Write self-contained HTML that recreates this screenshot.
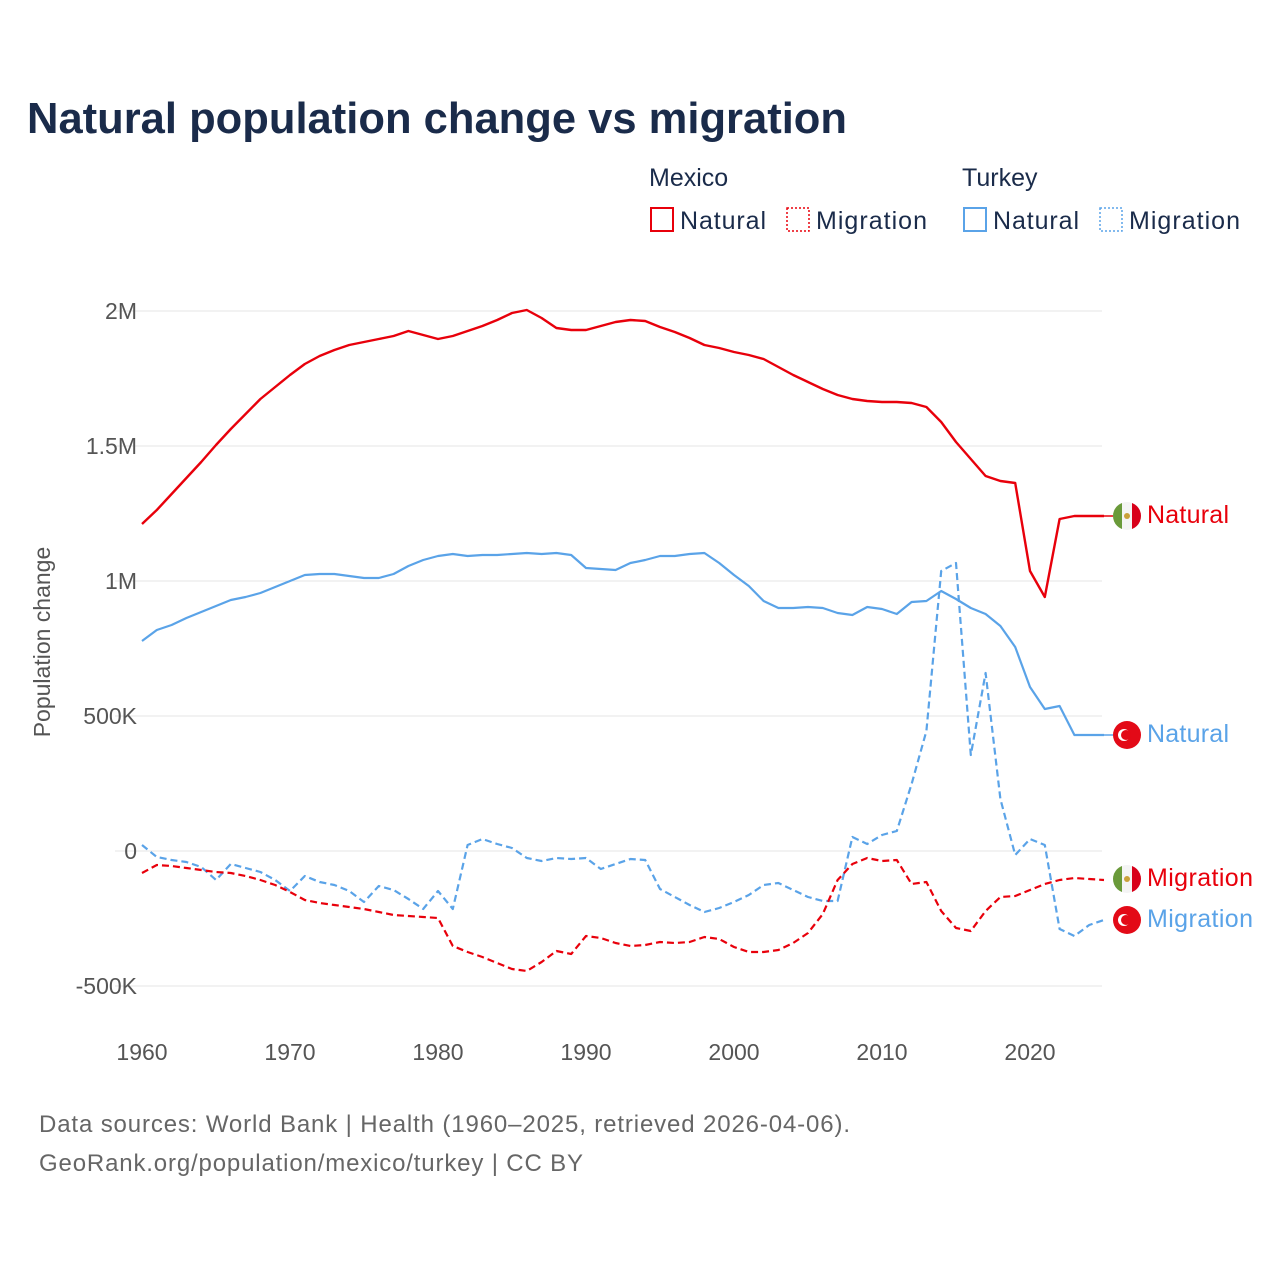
<!DOCTYPE html>
<html><head><meta charset="utf-8"><style>
body{margin:0;background:#fff;}
svg text{font-family:"Liberation Sans",sans-serif;}
</style></head><body>
<svg id="s" width="1280" height="1280" xmlns="http://www.w3.org/2000/svg">
<defs>
<clipPath id="c1"><circle cx="1127" cy="516" r="14"/></clipPath>
<clipPath id="c2"><circle cx="1127" cy="879" r="14"/></clipPath>
</defs>
<rect width="1280" height="1280" fill="#fff"/>
<text x="27" y="133" font-size="44" font-weight="bold" fill="#1a2b4a" textLength="820" lengthAdjust="spacingAndGlyphs">Natural population change vs migration</text>
<text x="649" y="186" font-size="25" fill="#1a2b4a">Mexico</text>
<text x="962" y="186" font-size="25" fill="#1a2b4a">Turkey</text>
<rect x="651" y="208" width="22" height="23" fill="none" stroke="#e8000b" stroke-width="2"/>
<text x="680" y="229" font-size="25" fill="#1a2b4a" textLength="86">Natural</text>
<rect x="787" y="208" width="22" height="23" fill="none" stroke="#e8000b" stroke-width="1.5" stroke-dasharray="2,2"/>
<text x="816" y="229" font-size="25" fill="#1a2b4a" textLength="111">Migration</text>
<rect x="964" y="208" width="22" height="23" fill="none" stroke="#5aa3e8" stroke-width="2"/>
<text x="993" y="229" font-size="25" fill="#1a2b4a" textLength="86">Natural</text>
<rect x="1100" y="208" width="22" height="23" fill="none" stroke="#5aa3e8" stroke-width="1.5" stroke-dasharray="2,2"/>
<text x="1129" y="229" font-size="25" fill="#1a2b4a" textLength="111">Migration</text>
<g stroke="#e6e6e6" stroke-width="1">
<line x1="115" x2="1102" y1="311" y2="311"/><line x1="115" x2="1102" y1="446" y2="446"/>
<line x1="115" x2="1102" y1="581" y2="581"/><line x1="115" x2="1102" y1="716" y2="716"/>
<line x1="115" x2="1102" y1="851" y2="851"/><line x1="115" x2="1102" y1="986" y2="986"/>
</g>
<g font-size="23" fill="#555" text-anchor="end">
<text x="137" y="319">2M</text><text x="137" y="454">1.5M</text><text x="137" y="589">1M</text>
<text x="137" y="724">500K</text><text x="137" y="859">0</text><text x="137" y="994">-500K</text>
</g>
<g font-size="23" fill="#555" text-anchor="middle">
<text x="142" y="1060">1960</text><text x="290" y="1060">1970</text><text x="438" y="1060">1980</text>
<text x="586" y="1060">1990</text><text x="734" y="1060">2000</text><text x="882" y="1060">2010</text><text x="1030" y="1060">2020</text>
</g>
<text transform="translate(50,642) rotate(-90)" font-size="23" fill="#555" text-anchor="middle">Population change</text>
<g id="lines"></g>
<g font-size="25">
<g clip-path="url(#c1)"><rect x="1113" y="502" width="28" height="28" fill="#f4f4f4"/><rect x="1113" y="502" width="9" height="28" fill="#6a9a3a"/><rect x="1132" y="502" width="9" height="28" fill="#d8001a"/><circle cx="1127" cy="516" r="3" fill="#c9a03a"/></g>
<text x="1147" y="523" fill="#e8000b" textLength="82">Natural</text>
<circle cx="1127" cy="735" r="14" fill="#e30a17"/><circle cx="1124" cy="735" r="6" fill="#fff"/><circle cx="1126" cy="735" r="5" fill="#e30a17"/>
<text x="1147" y="742" fill="#5aa3e8" textLength="82">Natural</text>
<g clip-path="url(#c2)"><rect x="1113" y="865" width="28" height="28" fill="#f4f4f4"/><rect x="1113" y="865" width="9" height="28" fill="#6a9a3a"/><rect x="1132" y="865" width="9" height="28" fill="#d8001a"/><circle cx="1127" cy="879" r="3" fill="#c9a03a"/></g>
<text x="1147" y="886" fill="#e8000b" textLength="106">Migration</text>
<circle cx="1127" cy="920" r="14" fill="#e30a17"/><circle cx="1124" cy="920" r="6" fill="#fff"/><circle cx="1126" cy="920" r="5" fill="#e30a17"/>
<text x="1147" y="927" fill="#5aa3e8" textLength="106">Migration</text>
</g>
<g font-size="24" fill="#666">
<text x="39" y="1132" textLength="811">Data sources: World Bank | Health (1960–2025, retrieved 2026-04-06).</text>
<text x="39" y="1171" textLength="544">GeoRank.org/population/mexico/turkey | CC BY</text>
</g>
</svg>
<script>
var mn=[524,510,494,478,462,445,429,414,399,387,375,364,356,350,345,342,339,336,331,335,339,336,331,326,320,313,310,318,328,330,330,326,322,320,321,327,332,338,345,348,352,355,359,367,375,382,389,395,399,401,402,402,403,407,422,442,459,476,481,483,571,597,519,516,516,516];
var tn=[641,630,625,618,612,606,600,597,593,587,581,575,574,574,576,578,578,574,566,560,556,554,556,555,555,554,553,554,553,555,568,569,570,563,560,556,556,554,553,563,575,586,601,608,608,607,608,613,615,607,609,614,602,601,591,599,608,614,626,647,687,709,706,735,735,735];
var tm=[845,857,860,862,867,880,864,868,872,880,891,876,882,885,891,902,886,890,899,909,891,909,845,839,844,848,858,861,858,859,858,869,864,859,860,889,897,905,912,908,902,895,885,883,890,897,901,901,837,844,835,831,784,731,571,563,755,673,799,855,839,845,929,936,925,920];
var mm=[873,865,866,868,870,872,873,876,880,885,892,900,903,905,907,909,912,915,916,917,918,946,952,957,963,969,971,962,951,954,936,938,943,946,945,942,943,942,937,939,947,952,952,950,943,933,914,880,864,858,861,860,884,882,911,928,931,911,897,896,890,884,880,878,879,880];
function pts(a){return a.map(function(v,i){return (142+i*14.8).toFixed(1)+","+v}).join(" ");}
var g=document.getElementById("lines"),h="";
function pl(a,c,d,w){h+='<polyline points="'+pts(a)+'" fill="none" stroke="'+c+'" stroke-width="'+w+'"'+(d?' stroke-dasharray="7,4"':'')+' stroke-linejoin="round"/>';}
pl(tm,"#5aa3e8",1,2.2);pl(mm,"#e8000b",1,2.2);pl(tn,"#5aa3e8",0,2.2);pl(mn,"#e8000b",0,2.4);
h+='<line x1="1104" x2="1113" y1="516" y2="516" stroke="#e8000b" stroke-width="1.5"/>';
h+='<line x1="1104" x2="1113" y1="735" y2="735" stroke="#5aa3e8" stroke-width="1.5"/>';
g.innerHTML=h;
</script>
</body></html>
